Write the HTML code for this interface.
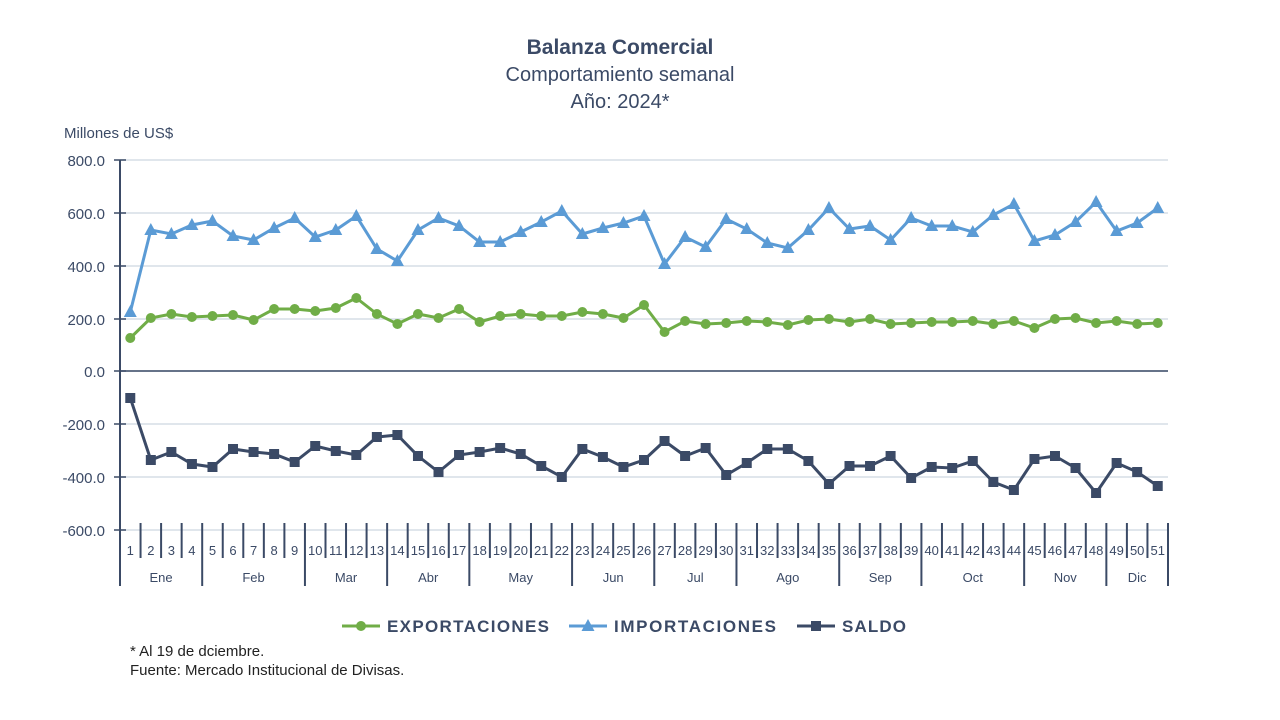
<!DOCTYPE html><html><head><meta charset="utf-8"><style>body{margin:0;background:#fff}svg{display:block}text{font-family:"Liberation Sans",sans-serif}</style></head><body>
<svg id="s" width="1280" height="720" xmlns="http://www.w3.org/2000/svg">
<text x="620" y="54" text-anchor="middle" font-size="21" font-weight="bold" fill="#3b4a66">Balanza Comercial</text>
<text x="620" y="81" text-anchor="middle" font-size="20" fill="#3b4a66">Comportamiento semanal</text>
<text x="620" y="108" text-anchor="middle" font-size="20" fill="#3b4a66">Año: 2024*</text>
<text x="64" y="138" font-size="15" fill="#3b4a66">Millones de US$</text>
<text x="130" y="656" font-size="15" fill="#222">* Al 19 de dciembre.</text>
<text x="130" y="675" font-size="15" fill="#222">Fuente: Mercado Institucional de Divisas.</text>
<g id="g"></g>
</svg>
<script>
var g=document.getElementById('g'),h='';
var ys=[160,213,266,319,371,424,477,530],lb=['800.0','600.0','400.0','200.0','0.0','-200.0','-400.0','-600.0'];
ys.forEach(function(y,i){h+='<line x1="120" x2="1168" y1="'+y+'" y2="'+y+'" stroke="#d5dde6" stroke-width="1.5"/>';h+='<line x1="114" x2="126" y1="'+y+'" y2="'+y+'" stroke="#3b4a66" stroke-width="1.5"/>';h+='<text x="105" y="'+(y+6)+'" text-anchor="end" font-size="15" fill="#3b4a66">'+lb[i]+'</text>';});
h+='<line x1="120" x2="1168" y1="371" y2="371" stroke="#3b4a66" stroke-width="1.5"/>';
h+='<line x1="120" x2="120" y1="160" y2="586" stroke="#3b4a66" stroke-width="2"/>';
var w=1048/51,mb=[4,9,13,17,22,26,30,35,39,44,48,51],mn=['Ene','Feb','Mar','Abr','May','Jun','Jul','Ago','Sep','Oct','Nov','Dic'];
for(var i=0;i<51;i++){var x=120+w*(i+1);var m=mb.indexOf(i+1)>=0;h+='<line x1="'+x+'" x2="'+x+'" y1="523" y2="'+(m?586:558)+'" stroke="#3b4a66" stroke-width="2"/>';h+='<text x="'+(120+w*(i+.5))+'" y="555" text-anchor="middle" font-size="13" fill="#3b4a66">'+(i+1)+'</text>';}
var p=0;mb.forEach(function(b,k){var c=120+w*(p+b)/2;h+='<text x="'+c+'" y="582" text-anchor="middle" font-size="13" fill="#3b4a66">'+mn[k]+'</text>';p=b;});
var E=[338,318,314,317,316,315,320,309,309,311,308,298,314,324,314,318,309,322,316,314,316,316,312,314,318,305,332,321,324,323,321,322,325,320,319,322,319,324,323,322,322,321,324,321,328,319,318,323,321,324,323];
var I=[312,230,234,225,221,236,240,228,218,237,230,216,249,261,230,218,226,242,242,232,222,211,234,228,223,216,264,237,247,219,229,243,248,230,208,229,226,240,218,226,226,232,215,204,241,235,222,202,231,223,208];
var S=[398,460,452,464,467,449,452,454,462,446,451,455,437,435,456,472,455,452,448,454,466,477,449,457,467,460,441,456,448,475,463,449,449,461,484,466,466,456,478,467,468,461,482,490,459,456,468,493,463,472,486];
function ser(d,c,t){var pts=d.map(function(y,i){return (120+w*(i+.5)).toFixed(1)+','+y}).join(' ');h+='<polyline points="'+pts+'" fill="none" stroke="'+c+'" stroke-width="3"/>';d.forEach(function(y,i){var x=120+w*(i+.5);h+=mk(x,y,c,t);});}
function mk(x,y,c,t){if(t==0)return '<circle cx="'+x+'" cy="'+y+'" r="5" fill="'+c+'"/>';if(t==1)return '<polygon points="'+x+','+(y-7)+' '+(x-6.5)+','+(y+5)+' '+(x+6.5)+','+(y+5)+'" fill="'+c+'"/>';return '<rect x="'+(x-5)+'" y="'+(y-5)+'" width="10" height="10" fill="'+c+'"/>';}
ser(I,'#5b9bd5',1);ser(E,'#70ad47',0);ser(S,'#3b4a66',2);
var L=[[342,'#70ad47',0,'EXPORTACIONES',162],[569,'#5b9bd5',1,'IMPORTACIONES',162],[797,'#3b4a66',2,'SALDO',64]];
L.forEach(function(l){h+='<line x1="'+l[0]+'" x2="'+(l[0]+38)+'" y1="626" y2="626" stroke="'+l[1]+'" stroke-width="3"/>'+mk(l[0]+19,626,l[1],l[2])+'<text x="'+(l[0]+45)+'" y="632" font-size="17" font-weight="bold" fill="#3b4a66" textLength="'+l[4]+'">'+l[3]+'</text>';});
g.innerHTML=h;
</script></body></html>
